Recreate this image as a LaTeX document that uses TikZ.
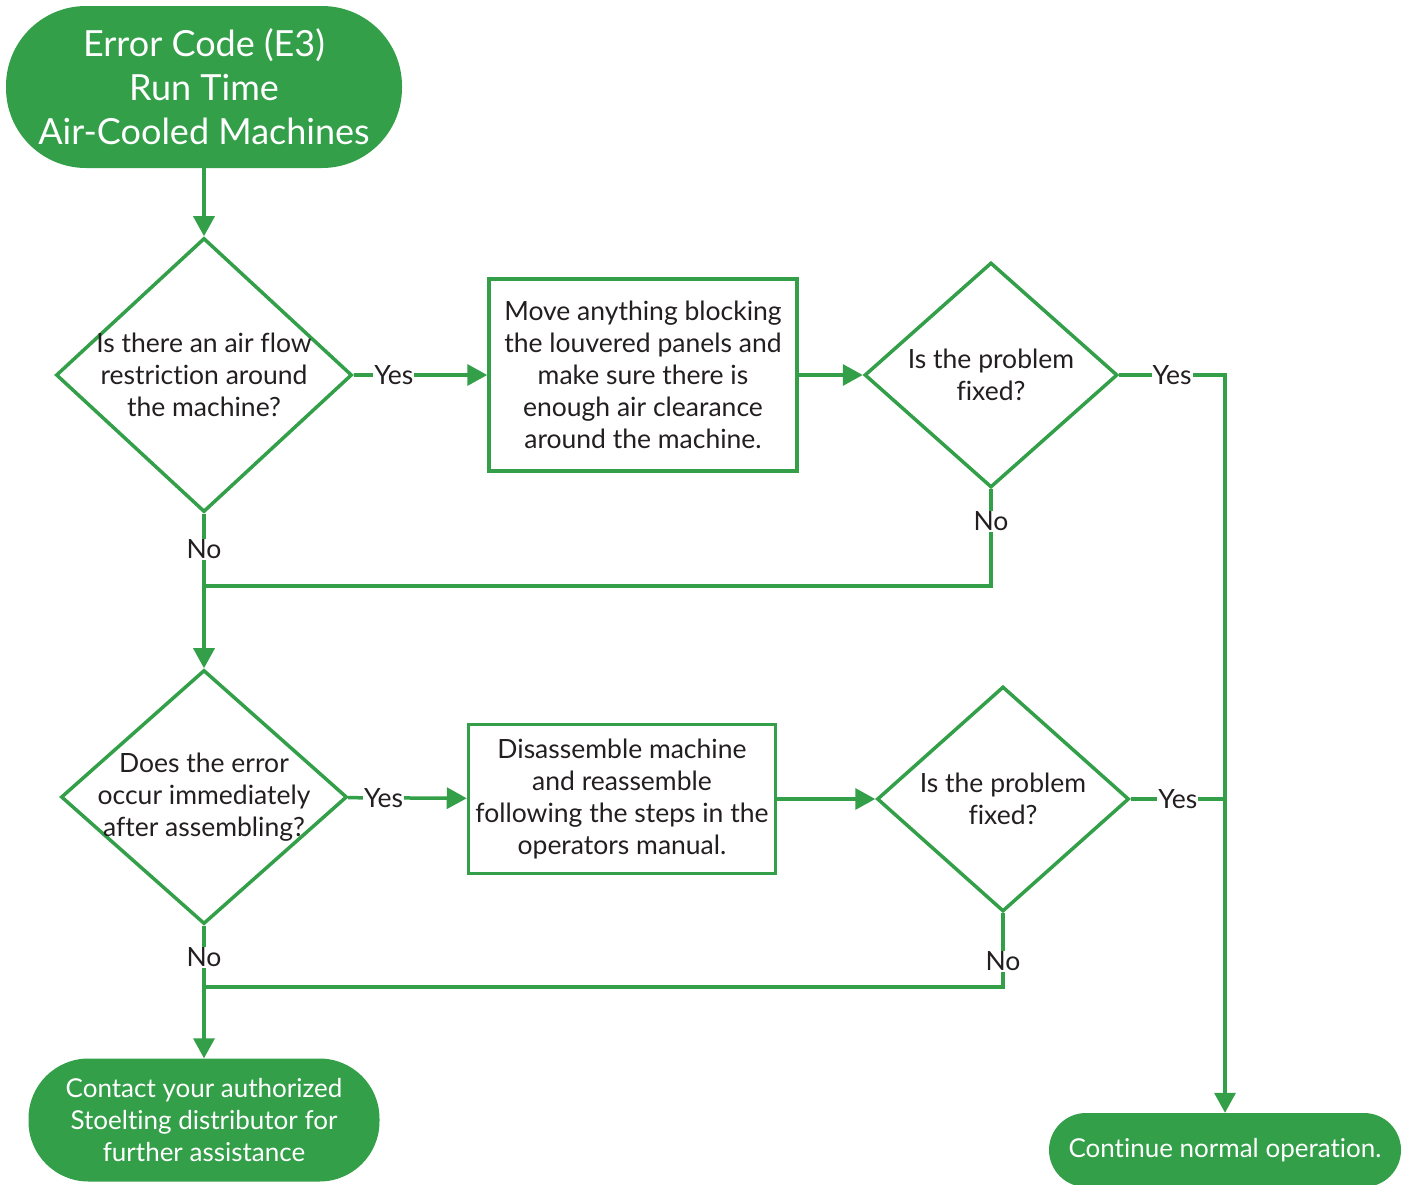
\documentclass[tikz,border=0pt]{standalone}
\usepackage{fontspec}
\setmainfont{Lato}[Ligatures=NoCommon]
\usetikzlibrary{shapes.geometric,arrows.meta}
\definecolor{fcgreen}{RGB}{51,159,73}
\definecolor{fctext}{RGB}{35,31,32}

\tikzset{
  terminal/.style={rectangle, fill=fcgreen, text=white, align=center, inner sep=0pt},
  decision/.style={diamond, draw=fcgreen, line width=3.5pt, inner sep=0pt},
  process/.style={rectangle, draw=fcgreen, line width=3.5pt, inner sep=0pt, text=fctext, align=center, font=\fontsize{26.5}{32}\selectfont},
  qtext/.style={text=fctext, align=center, inner sep=0pt, font=\fontsize{26.5}{32}\selectfont},
  flow/.style={draw=fcgreen, line width=3.5pt},
  tip/.style={-{Triangle[length=20pt,width=21pt]}},
  answer/.style={fill=white, text=fctext, inner sep=1pt, font=\fontsize{26.5}{32}\selectfont}
}

\begin{document}
\begin{tikzpicture}[x=1pt,y=-1pt]
  \useasboundingbox (0,0) rectangle (1406,1184);

  \node[terminal, rounded corners=80pt, minimum width=396pt, minimum height=162pt, font=\fontsize{36}{44}\selectfont] (start) at (204,87) {Error Code (E3)\\Run Time\\Air-Cooled Machines};

  \node[decision, minimum width=296pt, minimum height=274pt] (q1) at (204,375) {};
  \node[qtext] at (q1) {Is there an air flow\\restriction around\\the machine?};
  \node[process, minimum width=308pt, minimum height=192pt] (act1) at (643,375) {Move anything blocking\\the louvered panels and\\make sure there is\\enough air clearance\\around the machine.};
  \node[decision, minimum width=253pt, minimum height=225pt] (fix1) at (991,375) {};
  \node[qtext] at (fix1) {Is the problem\\fixed?};

  \node[decision, minimum width=286pt, minimum height=254pt] (q2) at (204,797) {};
  \node[qtext] at (q2) {Does the error\\occur immediately\\after assembling?};
  \node[process, minimum width=307pt, minimum height=149pt] (act2) at (622,799) {Disassemble machine\\and reassemble\\following the steps in the\\operators manual.};
  \node[decision, minimum width=252pt, minimum height=225pt] (fix2) at (1003,799) {};
  \node[qtext] at (fix2) {Is the problem\\fixed?};

  \node[terminal, rounded corners=60pt, minimum width=351pt, minimum height=123pt, font=\fontsize{26}{32}\selectfont] (contact) at (204,1120) {Contact your authorized\\Stoelting distributor for\\further assistance};
  \node[terminal, rounded corners=37pt, minimum width=352pt, minimum height=74pt, font=\fontsize{26}{32}\selectfont] (cont) at (1225,1150) {Continue normal operation.};

  \coordinate (join1) at (204,586);
  \coordinate (join2) at (204,987);

  \draw[flow, tip] (start) -- (q1);
  \draw[flow, tip] (q1) -- node[answer, pos=0.3] {Yes} (act1);
  \draw[flow, tip] (act1) -- (fix1);
  \draw[flow, tip] (fix1.east) -| node[answer, pos=0.25] {Yes} (cont.north);
  \draw[flow] (fix1.south) -- node[answer, pos=0.33] {No} (fix1.south |- join1) -- (join1);
  \draw[flow, tip] (q1) -- node[answer, pos=0.23] {No} (q2);

  \draw[flow, tip] (q2) -- node[answer, pos=0.3] {Yes} (act2);
  \draw[flow, tip] (act2) -- (fix2);
  \draw[flow] (fix2.east) -- node[answer] {Yes} (fix2.east -| cont.north);
  \draw[flow] (fix2.south) -- node[answer, pos=0.65] {No} (fix2.south |- join2) -- (join2);
  \draw[flow, tip] (q2) -- node[answer, pos=0.24] {No} (contact);
\end{tikzpicture}
\end{document}
